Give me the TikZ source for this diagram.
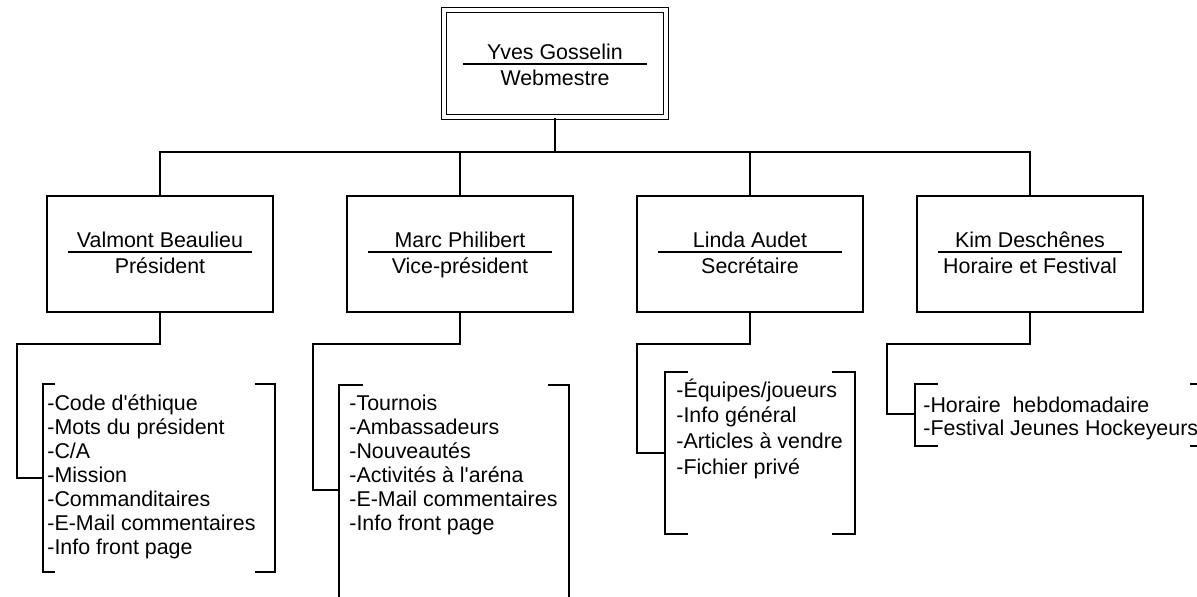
\documentclass[tikz,border=0pt]{standalone}
\usepackage{fontspec}
\setmainfont{Liberation Sans}
\begin{document}
\begin{tikzpicture}[x=0.5pt,y=-0.5pt,
  every node/.style={font=\fontsize{10.7}{12}\selectfont, inner sep=0pt, text height=0.75em, text depth=0.2em},
  ln/.style={line width=0.8pt},
  pbox/.style={draw, line width=0.8pt, minimum width=113pt, minimum height=58pt, text height=, text depth=},
  topbox/.style={draw, line width=0.6pt, double, double distance=1.6pt, minimum width=111pt, minimum height=53.5pt, text height=, text depth=},
  item/.style={anchor=west}]
\useasboundingbox (0,0) rectangle (1197,597);
\clip (0,0) rectangle (1197,597);
\fill[white] (0,0) rectangle (1197,597);

% top box
\node[topbox] (top) at (555,63.5) {};
\node (tname) at (555,54) {Yves Gosselin};
\draw[ln] ([shift={(-92,0.5)}]top.center) -- ([shift={(92,0.5)}]top.center);
\node (trole) at (555,80) {Webmestre};

% person boxes
\newcommand\personbox[4]{%
  \node[pbox] (#1) at (#2,254) {};
  \node (#1n) at (#2,242) {#3};
  \draw[ln] ([shift={(-92,-2)}]#1.center) -- ([shift={(92,-2)}]#1.center);
  \node (#1r) at (#2,268) {#4};
}
\personbox{val}{160}{Valmont Beaulieu}{Président}
\personbox{marc}{460}{Marc Philibert}{Vice-président}
\personbox{linda}{750}{Linda Audet}{Secrétaire}
\personbox{kim}{1030}{Kim Deschênes}{Horaire et Festival}

% top connectors
\coordinate (hub) at (555,152);
\draw[ln] (top.south) -- (hub);
\draw[ln] (hub) -| (val.north);
\draw[ln] (hub) -| (marc.north);
\draw[ln] (hub) -| (linda.north);
\draw[ln] (hub) -| (kim.north);

% Valmont list
\coordinate (vj) at (43,478);
\draw[ln] (val.south) -- (160,344) -- (17,344) -- (17,478) -- (vj);
\draw[ln] (55,384) -- (43,384) -- (43,572) -- (55,572);
\draw[ln] (255,384) -- (275,384) -- (275,572) -- (255,572);
\foreach \t [count=\i from 0] in {-Code d\textquotesingle éthique,-Mots du président,-C/A,-Mission,-Commanditaires,-E-Mail commentaires,-Info front page}
  \node[item] (v\i) at (47,405+24*\i) {\t};

% Marc list
\coordinate (mj) at (339,490);
\draw[ln] (marc.south) -- (460,344) -- (313,344) -- (313,490) -- (mj);
\draw[ln] (363,385) -- (339,385) -- (339,600);
\draw[ln] (548,385) -- (569,385) -- (569,600);
\foreach \t [count=\i from 0] in {-Tournois,-Ambassadeurs,-Nouveautés,-Activités à l\textquotesingle aréna,-E-Mail commentaires,-Info front page}
  \node[item] (m\i) at (349,405+24*\i) {\t};

% Linda list
\coordinate (lj) at (665,453);
\draw[ln] (linda.south) -- (750,344) -- (637,344) -- (637,453) -- (lj);
\draw[ln] (688,372) -- (665,372) -- (665,534) -- (688,534);
\draw[ln] (832,372) -- (855,372) -- (855,534) -- (832,534);
\foreach \t [count=\i from 0] in {-Équipes/joueurs,-Info général,-Articles à vendre,-Fichier privé}
  \node[item] (l\i) at (676,392+25.5*\i) {\t};

% Kim list
\coordinate (kj) at (915,414);
\draw[ln] (kim.south) -- (1030,344) -- (887,344) -- (887,414) -- (kj);
\draw[ln] (938,384) -- (915,384) -- (915,446) -- (938,446);
\draw[ln] (1190,384) -- (1205,384) -- (1205,446) -- (1190,446);
\foreach \t [count=\i from 0] in {-Horaire\ \ hebdomadaire,-Festival Jeunes Hockeyeurs}
  \node[item] (k\i) at (923,407+23*\i) {\t};
\end{tikzpicture}
\end{document}
